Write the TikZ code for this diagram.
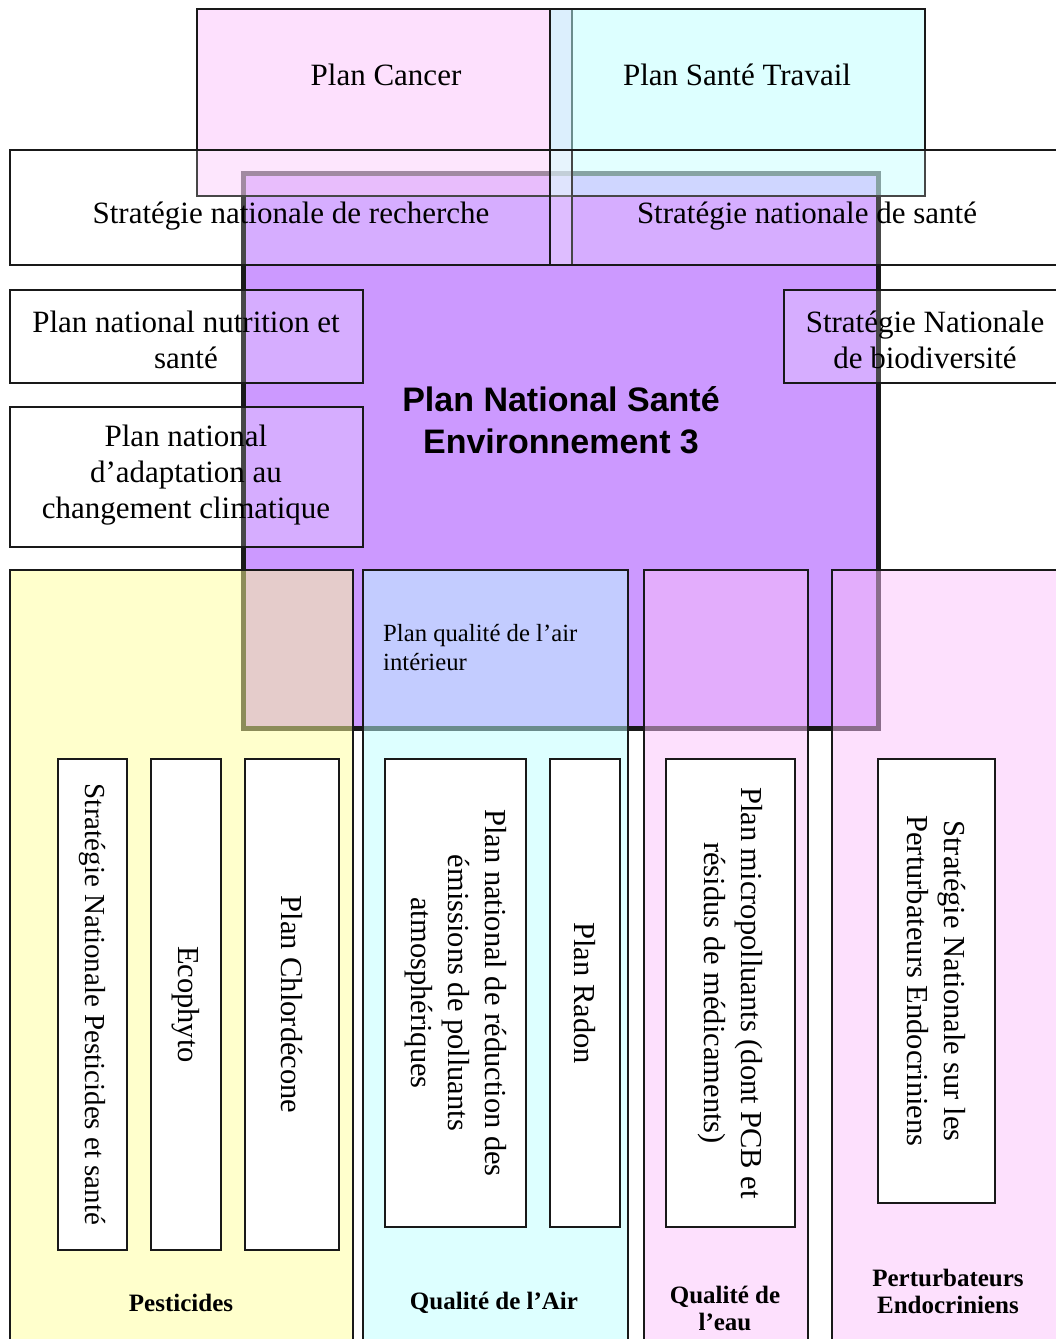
\documentclass[tikz,border=0pt]{standalone}
\usepackage{fontspec}
\setmainfont{Liberation Serif}
\newfontfamily\titlefont{Liberation Sans}
\usetikzlibrary{positioning}

\definecolor{pnsepurple}{HTML}{CC99FF}
\definecolor{planpink}{HTML}{FBC1FB}
\definecolor{plancyan}{HTML}{BBFFFF}
\definecolor{planyellow}{HTML}{FFFF99}

\begin{document}
\begin{tikzpicture}[
x=1pt,y=-1pt,
plan/.style={
  draw=black!90,
  line width=1.3pt,
  inner sep=0pt,
  outer sep=0pt
  },
strat/.style={
  plan,
  fill=white,
  fill opacity=0.2
  },
theme/.style={
  plan,
  fill opacity=0.5
  },
sub/.style={
  plan,
  fill=white,
  rotate=-90,
  align=center,
  font=\fontsize{30.5}{37}\selectfont
  },
txt/.style={
  align=center,
  inner sep=0pt,
  font=\fontsize{31}{36}\selectfont
  },
lbl/.style={
  align=center,
  inner sep=0pt,
  font=\fontsize{25}{27}\selectfont\bfseries
  }
]
\clip (0,0) rectangle (1056,1339);

% the central plan
\node[plan, fill=pnsepurple, line width=5pt, minimum width=635pt, minimum height=555pt] (pnse) at (560.5,450.5) {};

% plans around it
\node[theme, fill=planpink, minimum width=375pt, minimum height=187pt] (cancer) at (384.5,102.5) {};
\node[theme, fill=plancyan, minimum width=375pt, minimum height=187pt] (travail) at (737.5,102.5) {};
\node[strat, minimum width=562pt, minimum height=115pt] (recherche) at (291,207.5) {};
\node[strat, minimum width=516pt, minimum height=115pt] (sante) at (808,207.5) {};
\node[strat, minimum width=353pt, minimum height=93pt] (nutrition) at (186.5,336.5) {};
\node[strat, minimum width=353pt, minimum height=140pt] (adaptation) at (186.5,477) {};
\node[strat, minimum width=282pt, minimum height=93pt] (biodiv) at (925,336.5) {};

% themes
\node[theme, fill=planyellow, minimum width=343pt, minimum height=775pt] (pesticides) at (181.5,957.5) {};
\node[theme, fill=plancyan, minimum width=265pt, minimum height=775pt] (air) at (495.5,957.5) {};
\node[theme, fill=planpink, minimum width=164pt, minimum height=775pt] (eau) at (726,957.5) {};
\node[theme, fill=planpink, minimum width=232pt, minimum height=775pt] (perturb) at (948,957.5) {};

% plans inside the themes
\node[sub, minimum width=491pt, minimum height=69pt, font=\fontsize{29}{36}\selectfont] (snps) at (92.5,1004.5) {Stratégie Nationale Pesticides et santé};
\node[sub, minimum width=491pt, minimum height=70pt] (ecophyto) at (186,1004.5) {Ecophyto};
\node[sub, minimum width=491pt, minimum height=94pt] (chlordecone) at (292,1004.5) {Plan Chlordécone};
\node[sub, minimum width=468pt, minimum height=141pt] (prepa) at (455.5,993) {Plan national de réduction des\\émissions de polluants\\atmosphériques};
\node[sub, minimum width=468pt, minimum height=70pt] (radon) at (585,993) {Plan Radon};
\node[sub, minimum width=468pt, minimum height=129pt] (micro) at (730.5,993) {Plan micropolluants (dont PCB et\\résidus de médicaments)};
\node[sub, minimum width=444pt, minimum height=117pt] (snpe) at (936.5,981) {Stratégie Nationale sur les\\Perturbateurs Endocriniens};

% texts
\node[txt] (cancertxt) at (386,75) {Plan Cancer};
\node[txt] (travailtxt) at (737,75) {Plan Santé Travail};
\node[txt] (recherchetxt) at (291,216) {Stratégie nationale de recherche};
\node[txt] (santetxt) at (807,216) {Stratégie nationale de santé};
\node[txt] (nutritiontxt) at (186,340) {Plan national nutrition et\\santé};
\node[txt] (adaptationtxt) at (186,475) {Plan national\\d’adaptation au\\changement climatique};
\node[txt] (biodivtxt) at (925,340) {Stratégie Nationale\\de biodiversité};
\node[align=center, inner sep=0pt, font=\titlefont\bfseries\fontsize{34}{42}\selectfont] (pnsetxt) at (561,420) {Plan National Santé\\Environnement 3};
\node[anchor=west, align=left, inner sep=0pt, font=\fontsize{24.7}{29}\selectfont] (airintxt) at (383,648) {Plan qualité de l’air\\intérieur};

\node[lbl] (pestlbl) at (181,1303) {Pesticides};
\node[lbl] (airlbl) at (494,1303) {Qualité de l’Air};
\node[lbl] (eaulbl) at (725,1308) {Qualité de\\l’eau};
\node[lbl] (perturblbl) at (948,1291) {Perturbateurs\\Endocriniens};
\end{tikzpicture}
\end{document}
